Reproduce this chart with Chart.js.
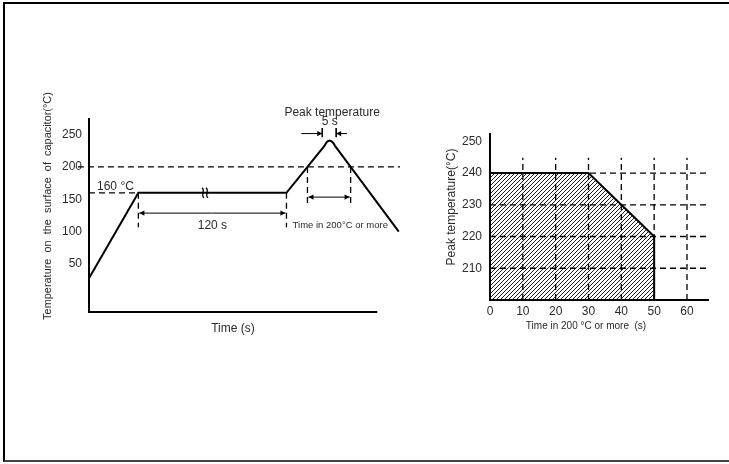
<!DOCTYPE html>
<html>
<head>
<meta charset="utf-8">
<script src="https://cdn.jsdelivr.net/npm/chart.js@4.4.0/dist/chart.umd.min.js"></script>
<style>
  html,body{margin:0;padding:0;background:#fff;}
  #page{position:relative;width:729px;height:464px;overflow:hidden;}
  #frame{position:absolute;left:3px;top:2px;width:726px;height:460px;box-sizing:border-box;
         border-top:2px solid #000;border-left:2px solid #000;border-bottom:2px solid #444;}
  #perfil{position:absolute;left:0;top:0;}
  #janela{position:absolute;left:420px;top:0;}
</style>
</head>
<body>
<div id="page">
  <div id="frame"></div>
  <canvas id="perfil" width="420" height="464"></canvas>
  <canvas id="janela" width="309" height="464"></canvas>
</div>
<script>
// perfil de temperatura (esquerda) - tempo esquematico em s
const perfilTempo = [0, 40, 160, 177, 190.6, 191.9, 193.3, 195, 196.6, 198.1, 199.5, 212, 251];
const perfilTemp  = [28, 160, 160, 200, 232, 236.3, 239.4, 240.8, 239.6, 236.6, 232, 200, 100];
const perfilTicksY = [50, 100, 150, 200, 250];

// janela de pico (direita)
const janelaTempo = [0, 0, 30, 50, 50];
const janelaPico  = [200, 240, 240, 220, 200];
const janelaTicksX = [0, 10, 20, 30, 40, 50, 60];
const janelaTicksY = [210, 220, 230, 240, 250];
const gradeY = [210, 220, 230, 240];
const gradeX = [10, 20, 30, 40, 50, 60];

const FONTE = '"Liberation Sans", Arial, sans-serif';
const COR_TXT = '#2a2a2a';

function pts(xs, ys){ return xs.map((v,i)=>({x:v, y:ys[i]})); }
function linha(data, extra){
  return Object.assign({data, borderColor:'#000', borderWidth:1, pointRadius:0, fill:false, clip:false, tension:0}, extra||{});
}
const tracejado = {borderDash:[6,4], borderWidth:1.3};

function seta(ctx, x1, y1, x2, y2){
  // linha com ponta em (x2,y2)
  const a = Math.atan2(y2-y1, x2-x1), L = 5, W = 2.6;
  ctx.beginPath(); ctx.moveTo(x1,y1); ctx.lineTo(x2,y2); ctx.stroke();
  ctx.beginPath();
  ctx.moveTo(x2,y2);
  ctx.lineTo(x2 - L*Math.cos(a) + W*Math.sin(a), y2 - L*Math.sin(a) - W*Math.cos(a));
  ctx.lineTo(x2 - L*Math.cos(a) - W*Math.sin(a), y2 - L*Math.sin(a) + W*Math.cos(a));
  ctx.closePath(); ctx.fill();
}
function textoVertical(ctx, txt, x, y, larg){
  ctx.save();
  if(larg){ // ajusta o corpo da fonte ao comprimento do original
    const w = ctx.measureText(txt).width;
    ctx.font = (12*larg/w).toFixed(2)+'px '+FONTE;
  }
  ctx.translate(x,y); ctx.rotate(-Math.PI/2);
  ctx.textAlign='center'; ctx.textBaseline='middle'; ctx.fillText(txt,0,0); ctx.restore();
}

const anotPerfil = {
  id:'anotPerfil',
  afterDatasetsDraw(chart){
    const {ctx, scales:{x, y}} = chart;
    const px = v=>x.getPixelForValue(v), py = v=>y.getPixelForValue(v);
    ctx.save();
    ctx.strokeStyle='#000'; ctx.fillStyle='#000'; ctx.lineWidth=1;
    // 120 s
    const yA = py(128.7), xm = (px(40)+px(160))/2;
    seta(ctx, xm, yA, px(40)+1, yA);
    seta(ctx, xm, yA, px(160)-1, yA);
    // tempo acima de 200
    const yB = py(153.4), xm2 = (px(177)+px(212))/2;
    seta(ctx, xm2, yB, px(177)+1, yB);
    seta(ctx, xm2, yB, px(212)-1, yB);
    // 5 s no pico
    const yC = py(251.5);
    seta(ctx, px(172), yC, px(189), yC);
    seta(ctx, px(209), yC, px(200.3), yC);
    // marca de quebra no patamar
    const xq = px(94), yq = py(160);
    ctx.lineWidth=1.2;
    [-2,2].forEach(d=>{
      ctx.beginPath();
      ctx.moveTo(xq+d-1, yq-5);
      ctx.bezierCurveTo(xq+d+3, yq-2, xq+d-3, yq+2, xq+d+1, yq+5);
      ctx.stroke();
    });
    // textos
    ctx.fillStyle=COR_TXT; ctx.textBaseline='middle';
    ctx.font='12px '+FONTE;
    ctx.textAlign='left'; ctx.fillText('160 °C', px(6.5), py(170));
    ctx.textAlign='center';
    ctx.fillText('120 s', px(100), py(109));
    ctx.fillText('Peak temperature', px(197), py(284));
    ctx.fillText('5 s', px(195), py(270));
    ctx.font='9.5px '+FONTE;
    ctx.fillText('Time in 200°C or more', px(203.6), py(109));
    ctx.font='12px '+FONTE;
    ctx.fillText('Time (s)', 233, 329);
    textoVertical(ctx, 'Temperature  on  the  surface  of  capacitor(°C)', 48, 206, 228);
    ctx.restore();
  }
};

const anotJanela = {
  id:'anotJanela',
  afterDraw(chart){
    const {ctx} = chart;
    ctx.save();
    ctx.fillStyle=COR_TXT; ctx.textBaseline='middle'; ctx.textAlign='center';
    ctx.font='10px '+FONTE;
    ctx.fillText('Time in 200 °C or more  (s)', 586-420, 326);
    ctx.font='12px '+FONTE;
    textoVertical(ctx, 'Peak temperature(°C)', 32, 207);
    ctx.restore();
  }
};

function hachura(){
  const s = 4, c = document.createElement('canvas');
  c.width = s; c.height = s;
  const g = c.getContext('2d');
  g.strokeStyle='#000'; g.lineWidth=0.9;
  g.beginPath();
  g.moveTo(0,s); g.lineTo(s,0);
  g.moveTo(-1,1); g.lineTo(1,-1);
  g.moveTo(s-1,s+1); g.lineTo(s+1,s-1);
  g.stroke();
  return g.createPattern(c,'repeat');
}

const fixarTicks = lista => s => { s.ticks = lista.map(v=>({value:v})); };
const tickFont = {family:FONTE, size:12};

new Chart(document.getElementById('perfil'), {
  type:'line',
  data:{datasets:[
    linha(pts(perfilTempo, perfilTemp), {borderWidth:2}),
    linha([{x:0,y:-24},{x:233.6,y:-24}], {borderWidth:2}),
    linha([{x:-9,y:200},{x:252,y:200}], tracejado),
    linha([{x:0,y:160},{x:40,y:160}], tracejado),
    linha([{x:40,y:160},{x:40,y:107}], tracejado),
    linha([{x:160,y:160},{x:160,y:107}], tracejado),
    linha([{x:177,y:200},{x:177,y:144}], tracejado),
    linha([{x:212,y:200},{x:212,y:144}], tracejado),
    linha([{x:189,y:260},{x:189,y:246}]),
    linha([{x:200.3,y:260},{x:200.3,y:246}])
  ]},
  options:{
    responsive:false, animation:false, events:[],
    layout:{padding:{left:0, top:119, right:20, bottom:0}},
    plugins:{legend:{display:false}, tooltip:{enabled:false}},
    scales:{
      x:{type:'linear', min:0, max:252,
         grid:{display:false, drawTicks:false}, border:{display:false},
         ticks:{display:false},
         afterFit:s=>{ s.height = 152; }},
      y:{type:'linear', min:-24, max:274,
         grid:{display:false, drawTicks:false},
         border:{display:true, color:'#000', width:2},
         ticks:{font:tickFont, color:COR_TXT, padding:7},
         afterBuildTicks:fixarTicks(perfilTicksY),
         afterFit:s=>{ s.width = 89; }}
    }
  },
  plugins:[anotPerfil]
});

const grade = [];
gradeY.forEach(v=>grade.push(linha([{x:0,y:v},{x:66.4,y:v}], Object.assign({order:1}, tracejado))));
gradeX.forEach(v=>grade.push(linha([{x:v,y:200},{x:v,y:244.8}], Object.assign({order:1}, tracejado))));

new Chart(document.getElementById('janela'), {
  type:'line',
  data:{datasets:[
    linha(pts(janelaTempo, janelaPico), {borderWidth:2, fill:'start', backgroundColor:hachura(), order:2}),
    ...grade
  ]},
  options:{
    responsive:false, animation:false, events:[],
    layout:{padding:{left:0, top:134, right:21, bottom:0}},
    plugins:{legend:{display:false}, tooltip:{enabled:false}},
    scales:{
      x:{type:'linear', min:0, max:66.4,
         grid:{display:false, drawTicks:false},
         border:{display:true, color:'#000', width:2},
         ticks:{font:tickFont, color:COR_TXT, padding:4, maxRotation:0},
         afterBuildTicks:fixarTicks(janelaTicksX),
         afterFit:s=>{ s.height = 164; }},
      y:{type:'linear', min:200, max:252.3,
         grid:{display:false, drawTicks:false},
         border:{display:true, color:'#000', width:2},
         ticks:{font:tickFont, color:COR_TXT, padding:8},
         afterBuildTicks:fixarTicks(janelaTicksY),
         afterFit:s=>{ s.width = 70; }}
    }
  },
  plugins:[anotJanela]
});
</script>
</body>
</html>
